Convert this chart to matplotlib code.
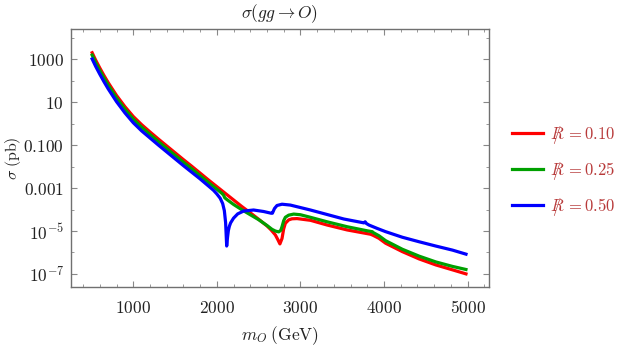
import numpy as np
import matplotlib
matplotlib.use('Agg')
import matplotlib.pyplot as plt
from matplotlib.ticker import FixedLocator, NullFormatter
from matplotlib.lines import Line2D

plt.rcParams['mathtext.fontset'] = 'cm'
plt.rcParams['font.family'] = ['DejaVu Serif']

# ---- data (log10 of sigma in pb) ----
m_red = [500, 550, 600, 650, 700, 800, 900, 1000, 1100, 1200, 1300, 1400, 1500, 1600,
         1700, 1800, 1900, 2000, 2100, 2200, 2300, 2400, 2500, 2600, 2650, 2700, 2730,
         2755, 2780, 2800, 2820, 2860, 2900, 2960, 3000, 3120, 3320, 3560, 3840, 3870,
         3940, 4020, 4220, 4420, 4620, 4820, 5000]
lg_red = [3.38, 2.97, 2.60, 2.25, 1.92, 1.32, 0.80, 0.34, -0.04, -0.38, -0.71, -1.03,
          -1.35, -1.67, -1.98, -2.30, -2.62, -2.93, -3.24, -3.55, -3.86, -4.15, -4.45,
          -4.76, -4.95, -5.18, -5.40, -5.60, -5.35, -4.90, -4.64, -4.48, -4.43, -4.42,
          -4.44, -4.50, -4.72, -4.95, -5.15, -5.20, -5.34, -5.57, -5.96, -6.30, -6.58,
          -6.81, -7.02]

m_grn = [500, 550, 600, 650, 700, 800, 900, 1000, 1100, 1200, 1300, 1400, 1500, 1600,
         1700, 1800, 1900, 2000, 2060, 2080, 2095, 2120, 2200, 2300, 2400, 2500, 2600,
         2660, 2700, 2740, 2765, 2780, 2800, 2820, 2860, 2920, 3000, 3120, 3320, 3560,
         3800, 3860, 3875, 3940, 4020, 4220, 4420, 4620, 4820, 5000]
lg_grn = [3.27, 2.85, 2.48, 2.13, 1.80, 1.20, 0.68, 0.22, -0.16, -0.50, -0.83, -1.15,
          -1.47, -1.79, -2.10, -2.42, -2.74, -3.05, -3.24, -3.32, -3.45, -3.53, -3.76,
          -4.01, -4.24, -4.47, -4.74, -4.92, -5.00, -5.04, -4.97, -4.80, -4.52, -4.36,
          -4.26, -4.21, -4.24, -4.36, -4.57, -4.80, -4.99, -5.03, -5.08, -5.22, -5.45,
          -5.85, -6.17, -6.44, -6.65, -6.81]

m_blu = [500, 550, 600, 650, 700, 800, 900, 1000, 1100, 1200, 1300, 1400, 1500, 1600,
         1700, 1800, 1900, 1960, 2000, 2040, 2070, 2090, 2105, 2118, 2128, 2138, 2150,
         2165, 2200, 2250, 2320, 2440, 2560, 2650, 2665, 2690, 2720, 2780, 2880, 3120,
         3320, 3520, 3760, 3775, 3790, 3820, 3920, 4020, 4220, 4420, 4620, 4820, 5000]
lg_blu = [3.09, 2.68, 2.31, 1.96, 1.63, 1.03, 0.51, 0.05, -0.33, -0.66, -0.99, -1.31,
          -1.63, -1.95, -2.26, -2.57, -2.90, -3.10, -3.27, -3.47, -3.72, -4.05, -4.60,
          -5.70, -5.30, -4.98, -4.78, -4.62, -4.40, -4.20, -4.07, -4.02, -4.09, -4.17,
          -4.17, -3.95, -3.81, -3.75, -3.79, -4.02, -4.23, -4.44, -4.62, -4.57, -4.65,
          -4.72, -4.88, -5.03, -5.29, -5.50, -5.70, -5.89, -6.10]

labels = [r'$R\!\!\!\!/\; = 0.10$', r'$R\!\!\!\!/\; = 0.25$', r'$R\!\!\!\!/\; = 0.50$']
colors = ['#ff0000', '#00a000', '#0000ff']

ytick_vals = [1e3, 1e1, 1e-1, 1e-3, 1e-5, 1e-7]
ytick_labels = [r'$1000$', r'$10$', r'$0.100$', r'$0.001$', r'$10^{-5}$', r'$10^{-7}$']
yminor_vals = [1e4, 1e2, 1e0, 1e-2, 1e-4, 1e-6]
xtick_vals = [1000, 2000, 3000, 4000, 5000]
xtick_labels = [r'$1000$', r'$2000$', r'$3000$', r'$4000$', r'$5000$']

# ---- figure ----
W, H = 623, 348
fig = plt.figure(figsize=(W / 100, H / 100), dpi=100)
ax = fig.add_axes([71 / W, 1 - 287 / H, (489 - 71) / W, (287 - 29) / H])

series = [(m_red, lg_red), (m_grn, lg_grn), (m_blu, lg_blu)]
for (m, lg), c, lab in zip(series, colors, labels):
    ax.plot(m, 10 ** np.array(lg), color=c, lw=2.3, solid_joinstyle='round',
            solid_capstyle='butt', label=lab)

ax.set_yscale('log')
ax.set_xlim(255, 5257)
ax.set_ylim(10 ** -7.61, 10 ** 4.42)

ax.yaxis.set_major_locator(FixedLocator(ytick_vals))
ax.set_yticklabels(ytick_labels)
ax.yaxis.set_minor_locator(FixedLocator(yminor_vals))
ax.yaxis.set_minor_formatter(NullFormatter())
ax.xaxis.set_major_locator(FixedLocator(xtick_vals))
ax.set_xticklabels(xtick_labels)
ax.xaxis.set_minor_locator(FixedLocator([v for v in range(400, 5201, 200) if v % 1000]))

frame_col = '#707070'
for s in ax.spines.values():
    s.set_color(frame_col)
    s.set_linewidth(1.0)
ax.tick_params(which='both', direction='in', top=True, right=True, color='#888888')
ax.tick_params(which='major', length=4, width=0.8, labelsize=12.5, colors='#888888',
               labelcolor='#222222')
ax.tick_params(which='minor', length=2.5, width=0.6)
ax.tick_params(axis='y', pad=5)
ax.tick_params(axis='x', pad=9.5)

ax.set_title(r'$\sigma(gg\to O)$', fontsize=12.5, pad=8, color='#222222')
ax.set_xlabel(r'$m_O\;(\mathrm{GeV})$', fontsize=12.5, color='#222222', labelpad=5)
ax.set_ylabel(r'$\sigma\;(\mathrm{pb})$', fontsize=11.5, color='#222222')
ax.yaxis.set_label_coords((23 - 71) / 418, 0.5)

handles = [Line2D([], [], color=c, lw=2.3) for c in colors]
leg = fig.legend(handles, labels, loc='center left',
                 bbox_to_anchor=(512 / W, 1 - 171 / H), frameon=False,
                 fontsize=12, handlelength=1.85, handletextpad=0.45,
                 labelspacing=0.85, borderpad=0, borderaxespad=0)
for t in leg.get_texts():
    t.set_color('#b83a3a')

fig.savefig('out.png', dpi=100)
